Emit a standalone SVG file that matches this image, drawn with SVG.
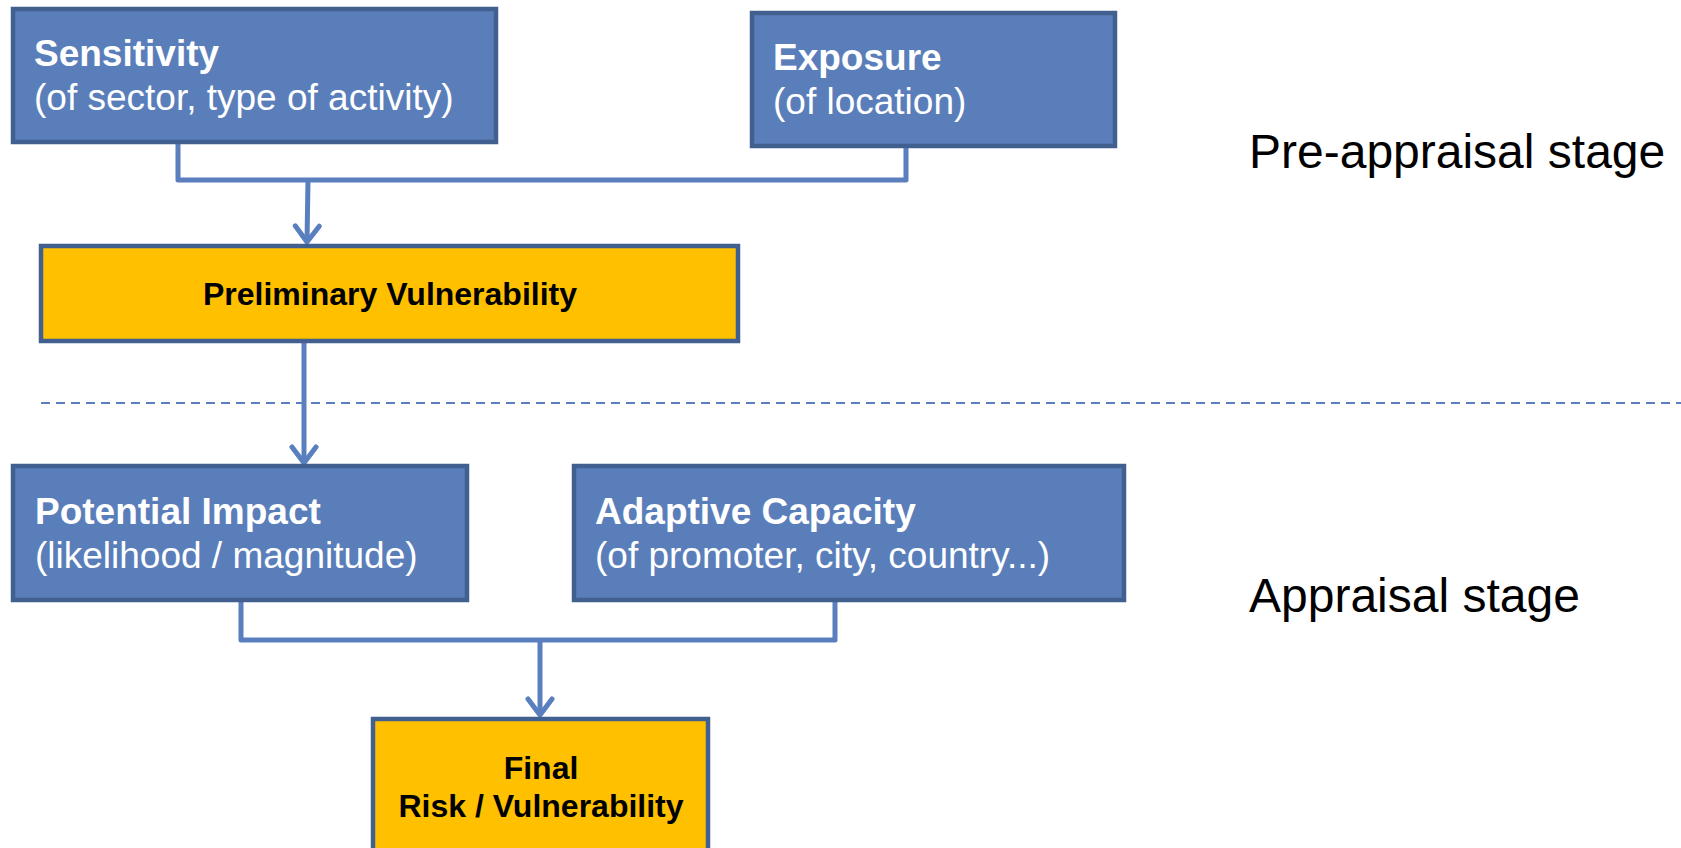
<svg xmlns="http://www.w3.org/2000/svg" width="1681" height="848" viewBox="0 0 1681 848">
<defs>
<style>
.blue{fill:#5A7EBA;stroke:#41608F;stroke-width:4.5}
.orange{fill:#FFC000;stroke:#41608F;stroke-width:4.5}
.t{font-family:"Liberation Sans",Arial,sans-serif}
.h{font-size:37px;font-weight:bold;fill:#fff}
.s{font-size:37px;fill:#fff}
.k{font-size:32px;font-weight:bold;fill:#000}
.stage{font-size:48px;fill:#000}
.conn{fill:none;stroke:#5A7FBE;stroke-width:5;stroke-linejoin:round}
.dash{fill:none;stroke:#5A7FBE;stroke-width:2;stroke-dasharray:9 6}
</style>
<marker id="arr" viewBox="0 0 22 30" refX="19" refY="15" markerWidth="22" markerHeight="30" markerUnits="userSpaceOnUse" orient="auto">
<path d="M3,3 L19,15 L3,27" fill="none" stroke="#5A7FBE" stroke-width="5" stroke-linejoin="round" stroke-linecap="round"/>
</marker>
</defs>
<rect width="1681" height="848" fill="#fff"/>
<g id="connectors">
<path class="conn" d="M178,142 V180 H906 V146"/>
<path class="conn" d="M308,180 L307,242" marker-end="url(#arr)"/>
<path class="dash" d="M41,403 H1681"/>
<path class="conn" d="M304,342 V463" marker-end="url(#arr)"/>
<path class="conn" d="M241,600 V640 H835 V600"/>
<path class="conn" d="M540,640 V715" marker-end="url(#arr)"/>
</g>
<g id="sensitivity">
<rect class="blue" x="13" y="9" width="483" height="133"/>
<text class="t h" x="34" y="66">Sensitivity</text>
<text class="t s" x="34" y="110">(of sector, type of activity)</text>
</g>
<g id="exposure">
<rect class="blue" x="752" y="13" width="363" height="133"/>
<text class="t h" x="773" y="70">Exposure</text>
<text class="t s" x="773" y="114">(of location)</text>
</g>
<g id="preliminary">
<rect class="orange" x="41" y="246" width="697" height="95"/>
<text class="t k" x="390" y="305" text-anchor="middle">Preliminary Vulnerability</text>
</g>
<g id="potential-impact">
<rect class="blue" x="13" y="466" width="454" height="134"/>
<text class="t h" x="35" y="524">Potential Impact</text>
<text class="t s" x="35" y="568">(likelihood / magnitude)</text>
</g>
<g id="adaptive-capacity">
<rect class="blue" x="574" y="466" width="550" height="134"/>
<text class="t h" x="595" y="524">Adaptive Capacity</text>
<text class="t s" x="595" y="568">(of promoter, city, country...)</text>
</g>
<g id="final">
<rect class="orange" x="373" y="719" width="335" height="150"/>
<text class="t k" x="541" y="779" text-anchor="middle">Final</text>
<text class="t k" x="541" y="817" text-anchor="middle">Risk / Vulnerability</text>
</g>
<g id="labels">
<text class="t stage" x="1249" y="168">Pre-appraisal stage</text>
<text class="t stage" x="1249" y="612">Appraisal stage</text>
</g>
</svg>
